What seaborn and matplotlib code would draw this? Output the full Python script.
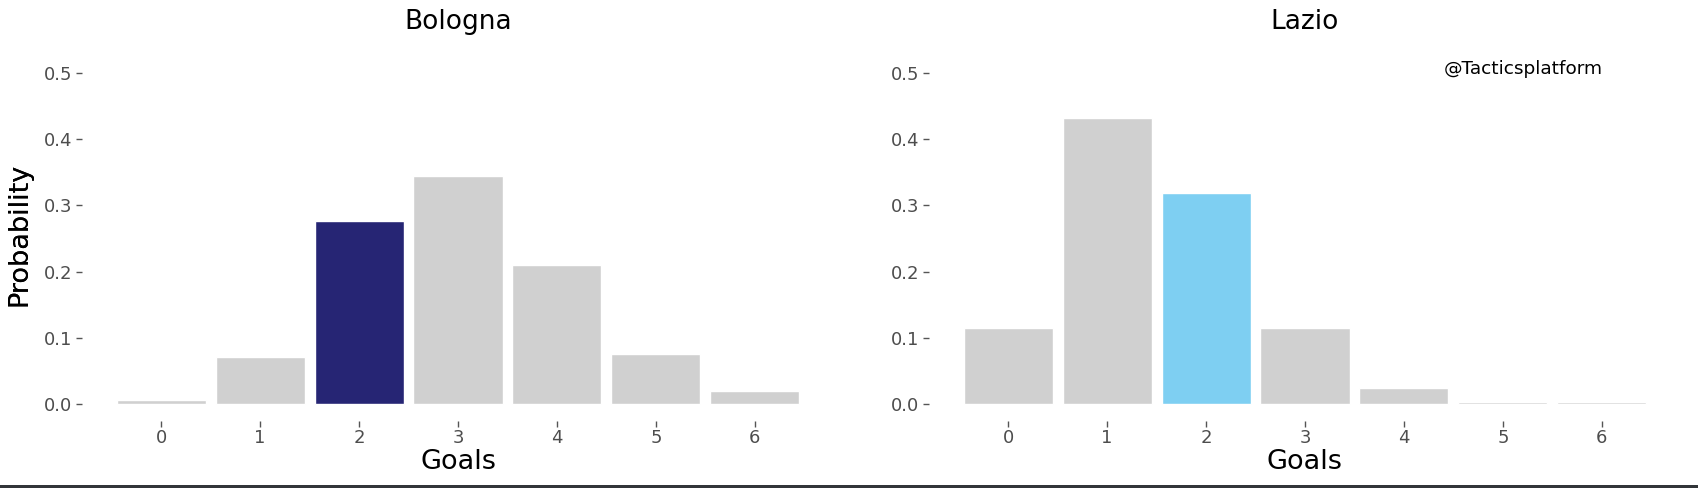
import matplotlib
matplotlib.use("Agg")
import matplotlib.pyplot as plt
import seaborn as sns
import pandas as pd
from matplotlib.patches import Rectangle

goals = [0, 1, 2, 3, 4, 5, 6]
bologna_prob = [0.006, 0.071, 0.277, 0.344, 0.210, 0.076, 0.020]
lazio_prob = [0.115, 0.431, 0.318, 0.115, 0.024, 0.004, 0.003]
teams = ["Bologna", "Lazio"]
highlight_goals = 2
highlight_colors = ["#262574", "#7ECFF2"]
grey = "#D0D0D0"
yticks = [0.0, 0.1, 0.2, 0.3, 0.4, 0.5]

sns.set_style("white")
plt.rcParams['font.family'] = ['DejaVu Sans']

fig = plt.figure(figsize=(16.98, 4.88), dpi=100)
W, H = 1698, 488

# posicao dos paineis em pixels (esquerda, direita)
panels = [(82, 834), (929, 1681)]
top_px, bottom_px = 56, 421
ph = bottom_px - top_px

for i, team in enumerate(teams):
    left, right = panels[i]
    pw = right - left
    ax = fig.add_axes([left / W, 1 - bottom_px / H, pw / W, ph / H])
    probs = bologna_prob if i == 0 else lazio_prob
    df = pd.DataFrame({"Goals": [str(g) for g in goals], "Probability": probs})
    pal = {str(g): (highlight_colors[i] if g == highlight_goals else grey) for g in goals}
    sns.barplot(data=df, x="Goals", y="Probability", hue="Goals", palette=pal,
                legend=False, width=0.9, saturation=1, ax=ax)
    ax.set_xlim(-0.8, 6.8)
    ax.set_ylim(-0.025, 0.525)
    ax.set_yticks(yticks)
    ax.set_yticklabels([f"{t:.1f}" for t in yticks])
    for s in ax.spines.values():
        s.set_visible(False)
    ax.tick_params(axis="both", which="both", length=4, width=1, color="#555555",
                   labelsize=13, labelcolor="#4D4D4D", direction="out",
                   bottom=True, left=True)
    ax.tick_params(axis="x", pad=2)
    ax.tick_params(axis="y", pad=3)
    ax.set_xlabel("Goals", fontsize=19.5, color="black", va="center")
    ax.set_ylabel("Probability", fontsize=19.5, color="black", va="center")
    ax.xaxis.set_label_coords(0.5, (bottom_px - 462) / ph)
    ax.yaxis.set_label_coords((19 - left) / pw, (bottom_px - 234) / ph)
    ax.text(0.5, (bottom_px - 22) / ph, team, transform=ax.transAxes,
            ha="center", va="center", fontsize=19, color="black")

# marca d'agua
fig.text(1603 / W, 1 - 69 / H, "@Tacticsplatform", ha="right", va="center",
         fontsize=13.3, color="black")

# faixa escura no rodape
fig.patches.append(Rectangle((0, 0), 1, 3 / H, transform=fig.transFigure,
                             facecolor="#323539", edgecolor="none"))

fig.savefig("out.png", dpi=100)
